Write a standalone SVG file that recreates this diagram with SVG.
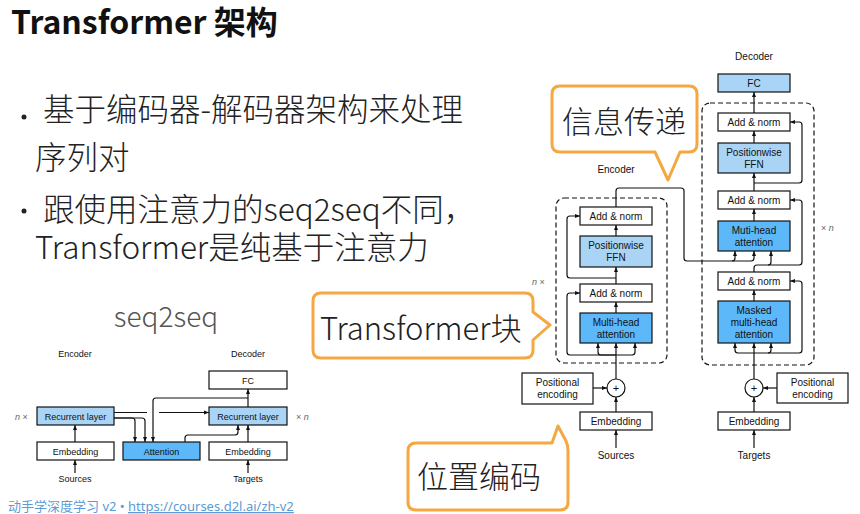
<svg xmlns="http://www.w3.org/2000/svg" width="860" height="514" viewBox="0 0 860 514">
<defs>
<marker id="a" viewBox="0 0 10 10" refX="10" refY="5" markerWidth="5" markerHeight="5" orient="auto" markerUnits="userSpaceOnUse"><path d="M0,1 L10,5 L0,9 z" fill="#111"/></marker>
<style>
.bx{fill:#fff;stroke:#111;stroke-width:1.2}
.lb{fill:#aad4f5;stroke:#111;stroke-width:1.2}
.db{fill:#5cb8f8;stroke:#111;stroke-width:1.2}
.t{font-family:"Liberation Sans",Arial,sans-serif;font-size:10px;fill:#111;text-anchor:middle}
.ts{font-family:"Liberation Sans",Arial,sans-serif;font-size:9px;fill:#111;text-anchor:middle}
.nn{font-family:"Liberation Sans",Arial,sans-serif;font-size:9px;fill:#666}
.c{fill:none;stroke:#111;stroke-width:1.2}
.ca{fill:none;stroke:#111;stroke-width:1.2;marker-end:url(#a)}
.dash{fill:none;stroke:#111;stroke-width:1.2;stroke-dasharray:5,3}
.body{font-family:"Noto Sans CJK SC","Noto Sans",sans-serif;font-size:31.5px;font-weight:300;fill:#222}
.call{fill:#fff;stroke:#f5a742;stroke-width:3;stroke-linejoin:round}
.ct{font-family:"Noto Sans CJK SC","Noto Sans",sans-serif;font-size:31px;font-weight:300;fill:#222}
</style>
</defs>
<rect width="860" height="514" fill="#fff"/>

<g id="title"><text x="11" y="34" font-family="'Noto Sans CJK SC','Noto Sans',sans-serif" font-size="32" font-weight="700" fill="#111">Transformer 架构</text></g>

<g id="bullets">
<circle cx="24" cy="117" r="2.5" fill="#222"/>
<text class="body" x="43" y="121">基于编码器-解码器架构来处理</text>
<text class="body" x="35" y="169">序列对</text>
<circle cx="24" cy="211" r="2.5" fill="#222"/>
<text class="body" x="43" y="221">跟使用注意力的seq2seq不同，</text>
<text class="body" x="35" y="259">Transformer是纯基于注意力</text>
</g>

<!-- seq2seq diagram -->
<g id="seq2seq-title"><text x="166" y="327" font-family="'Noto Sans CJK SC','Noto Sans',sans-serif" font-size="28" font-weight="300" fill="#555" text-anchor="middle">seq2seq</text></g>
<g id="s-labels">
<text class="ts" x="75" y="357">Encoder</text>
<text class="ts" x="248" y="357">Decoder</text>
<text class="ts" x="75" y="482">Sources</text>
<text class="ts" x="248" y="482">Targets</text>
<text class="nn" x="15" y="420" font-size="8"><tspan font-style="italic">n</tspan> ×</text>
<text class="nn" x="296" y="420" font-size="8">× <tspan font-style="italic">n</tspan></text>
</g>
<g id="s-fc"><rect class="bx" x="209" y="371" width="78" height="18"/><text class="ts" x="248" y="383.5">FC</text></g>
<g id="s-enc-rnn"><rect class="lb" x="37" y="407" width="77" height="18"/><text class="ts" x="75.5" y="419.5">Recurrent layer</text></g>
<g id="s-dec-rnn"><rect class="lb" x="209" y="407" width="78" height="18"/><text class="ts" x="248" y="419.5">Recurrent layer</text></g>
<g id="s-enc-emb"><rect class="bx" x="37" y="442" width="77" height="18"/><text class="ts" x="75.5" y="454.5">Embedding</text></g>
<g id="s-att"><rect class="db" x="123" y="442" width="77" height="18"/><text class="ts" x="161.5" y="454.5">Attention</text></g>
<g id="s-dec-emb"><rect class="bx" x="209" y="442" width="78" height="18"/><text class="ts" x="248" y="454.5">Embedding</text></g>
<g id="s-connectors">
<path class="ca" d="M75,473 V460"/>
<path class="ca" d="M75,442 V425"/>
<path class="c" d="M114,412.5 H147"/>
<path class="ca" d="M159,412.5 H209"/>
<path class="ca" d="M114,418 H132 Q135,418 135,421 V442"/>
<path class="ca" d="M114,418 H142 Q145,418 145,421 V442"/>
<path class="ca" d="M248,407 V389"/>
<path class="ca" d="M248,398 H156 Q153,398 153,401 V442"/>
<path class="ca" d="M185,442 V438 Q185,435 188,435 H235 Q238,435 238,432 V425"/>
<path class="ca" d="M248,442 V425"/>
<path class="ca" d="M248,473 V460"/>
</g>

<g id="footer"><text x="8" y="511" font-family="'Noto Sans','Noto Sans CJK SC',sans-serif" font-size="13" fill="#5b9bd5">动手学深度学习 v2 • <tspan text-decoration="underline">https://courses.d2l.ai/zh-v2</tspan></text></g>

<!-- Transformer diagram -->
<g id="t-labels">
<text class="t" x="616" y="172.5">Encoder</text>
<text class="t" x="754" y="60">Decoder</text>
<text class="t" x="616" y="458.5">Sources</text>
<text class="t" x="754" y="458.5">Targets</text>
<text class="nn" x="532" y="285"><tspan font-style="italic">n</tspan> ×</text>
<text class="nn" x="821" y="231">× <tspan font-style="italic">n</tspan></text>
</g>
<g id="enc-block"><rect class="dash" x="556" y="198" width="111" height="165" rx="8"/></g>
<g id="dec-block"><rect class="dash" x="702" y="103" width="112" height="262" rx="8"/></g>

<g id="e-addnorm2"><rect class="bx" x="580" y="207" width="72" height="18"/><text class="t" x="616" y="219.5">Add &amp; norm</text></g>
<g id="e-ffn"><rect class="lb" x="580" y="236" width="72" height="31"/><text class="t" x="616" y="249">Positionwise</text><text class="t" x="616" y="261">FFN</text></g>
<g id="e-addnorm1"><rect class="bx" x="580" y="284" width="72" height="18"/><text class="t" x="616" y="296.5">Add &amp; norm</text></g>
<g id="e-mha"><rect class="db" x="580" y="313" width="72" height="30"/><text class="t" x="616" y="326">Multi-head</text><text class="t" x="616" y="338">attention</text></g>
<g id="e-plus"><circle cx="616" cy="388" r="9" fill="#fff" stroke="#111" stroke-width="1.2"/><text x="616" y="391.5" font-family="'Liberation Sans',sans-serif" font-size="11" fill="#111" text-anchor="middle">+</text></g>
<g id="e-pos"><rect class="bx" x="522" y="373" width="71" height="31"/><text class="t" x="557.5" y="386">Positional</text><text class="t" x="557.5" y="398">encoding</text></g>
<g id="e-emb"><rect class="bx" x="580" y="412" width="72" height="18"/><text class="t" x="616" y="424.5">Embedding</text></g>

<g id="d-fc"><rect class="lb" x="718" y="74" width="72" height="18"/><text class="t" x="754" y="86.5">FC</text></g>
<g id="d-addnorm3"><rect class="bx" x="718" y="113" width="72" height="18"/><text class="t" x="754" y="125.5">Add &amp; norm</text></g>
<g id="d-ffn"><rect class="lb" x="718" y="143" width="72" height="30"/><text class="t" x="754" y="156">Positionwise</text><text class="t" x="754" y="167.5">FFN</text></g>
<g id="d-addnorm2"><rect class="bx" x="718" y="191" width="72" height="18"/><text class="t" x="754" y="203.5">Add &amp; norm</text></g>
<g id="d-mha"><rect class="db" x="718" y="221" width="72" height="30"/><text class="t" x="754" y="234">Muti-head</text><text class="t" x="754" y="245.5">attention</text></g>
<g id="d-addnorm1"><rect class="bx" x="718" y="272" width="72" height="18"/><text class="t" x="754" y="284.5">Add &amp; norm</text></g>
<g id="d-mmha"><rect class="db" x="718" y="301" width="72" height="42"/><text class="t" x="754" y="313.5">Masked</text><text class="t" x="754" y="326">multi-head</text><text class="t" x="754" y="337.5">attention</text></g>
<g id="d-plus"><circle cx="754" cy="388" r="9" fill="#fff" stroke="#111" stroke-width="1.2"/><text x="754" y="391.5" font-family="'Liberation Sans',sans-serif" font-size="11" fill="#111" text-anchor="middle">+</text></g>
<g id="d-pos"><rect class="bx" x="777" y="373" width="71" height="30"/><text class="t" x="812.5" y="386">Positional</text><text class="t" x="812.5" y="397.5">encoding</text></g>
<g id="d-emb"><rect class="bx" x="718" y="412" width="72" height="18"/><text class="t" x="754" y="424.5">Embedding</text></g>

<g id="t-connectors">
<path class="ca" d="M616,448 V430"/>
<path class="ca" d="M616,412 V397"/>
<path class="ca" d="M593,388 H607"/>
<path class="ca" d="M616,379 V343"/>
<path class="ca" d="M616,355 H601 Q598,355 598,352 V343"/>
<path class="ca" d="M616,355 H632 Q635,355 635,352 V343"/>
<path class="ca" d="M616,355 H570 Q567,355 567,352 V296 Q567,293 570,293 H580"/>
<path class="ca" d="M616,313 V302"/>
<path class="ca" d="M616,284 V267"/>
<path class="ca" d="M616,278 H570 Q567,278 567,275 V219 Q567,216 570,216 H580"/>
<path class="ca" d="M616,236 V225"/>
<path class="ca" d="M616,207 V191 Q616,188 619,188 H681 Q684,188 684,191 V258 Q684,261 687,261 H751 Q754,261 754,258 V251"/>
<path class="ca" d="M732,261 Q735,261 735,258 V251"/>

<path class="ca" d="M754,448 V430"/>
<path class="ca" d="M754,412 V397"/>
<path class="ca" d="M777,388 H763"/>
<path class="ca" d="M754,379 V343"/>
<path class="ca" d="M754,353 H738 Q735,353 735,350 V343"/>
<path class="ca" d="M768,353 Q771,353 771,350 V343"/>
<path class="ca" d="M754,353 H799 Q802,353 802,350 V284 Q802,281 799,281 H790"/>
<path class="ca" d="M754,301 V290"/>
<path class="ca" d="M754,272 V268 Q754,265 757,265 H799 Q802,265 802,262 V203 Q802,200 799,200 H790"/>
<path class="ca" d="M768,265 Q771,265 771,262 V251"/>
<path class="ca" d="M754,221 V209"/>
<path class="ca" d="M754,191 V173"/>
<path class="ca" d="M754,183 H799 Q802,183 802,180 V125 Q802,122 799,122 H790"/>
<path class="ca" d="M754,143 V131"/>
<path class="ca" d="M754,113 V92"/>
</g>

<g id="callout-info">
<path class="call" d="M560,86 H689 Q697,86 697,94 V144 Q697,152 689,152 H680 L668,180 L655,152 H560 Q552,152 552,144 V94 Q552,86 560,86 Z"/>
<text class="ct" x="562" y="133">信息传递</text>
</g>
<g id="callout-block">
<path class="call" d="M321,293 H525 Q533,293 533,301 V312 L550,325 L533,340 V350 Q533,358 525,358 H321 Q313,358 313,350 V301 Q313,293 321,293 Z"/>
<text class="ct" x="320" y="340">Transformer块</text>
</g>
<g id="callout-pos">
<path class="call" d="M416,443 H552 L558,426 L566,441 Q568,445 568,451 V502 Q568,510 560,510 H416 Q408,510 408,502 V451 Q408,443 416,443 Z"/>
<text class="ct" x="417" y="488">位置编码</text>
</g>
</svg>
